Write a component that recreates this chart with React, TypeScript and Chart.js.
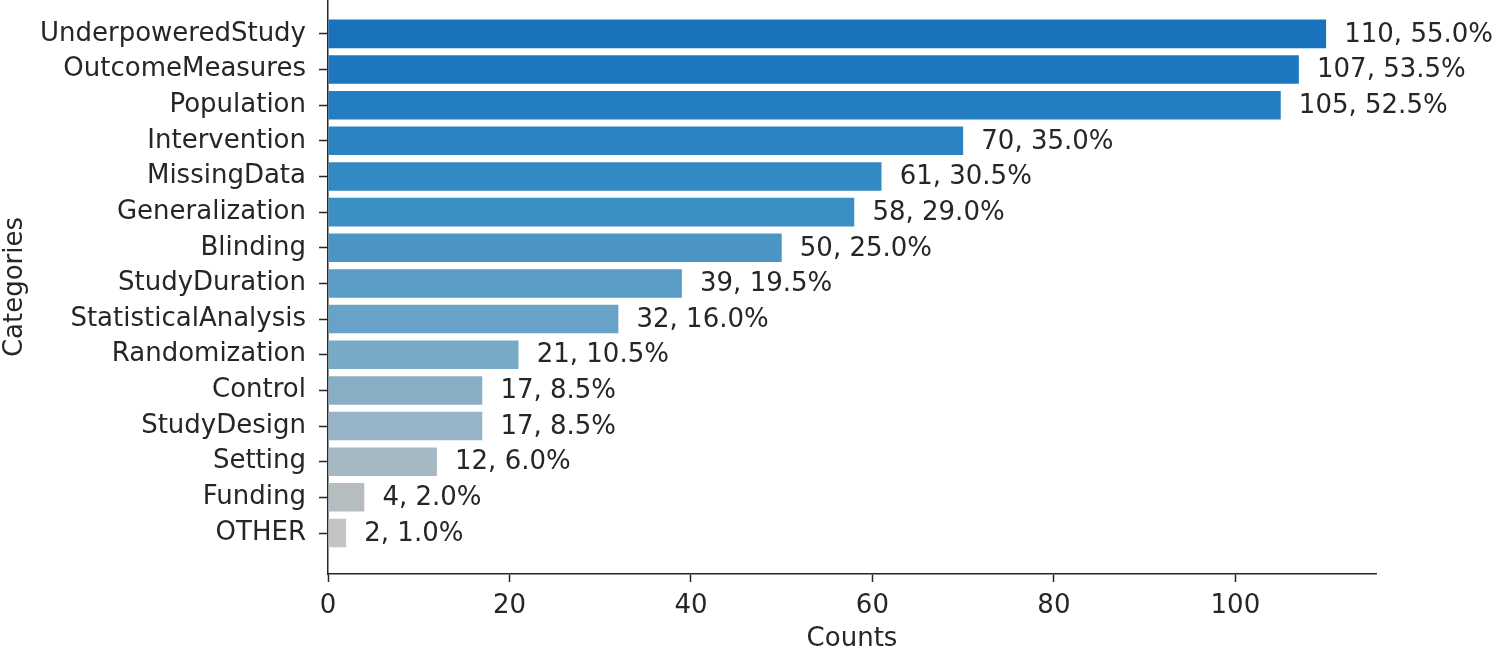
import React, { useEffect, useRef } from "react";
import { Chart, registerables } from "chart.js";

Chart.register(...registerables);

const categories = [
  "UnderpoweredStudy",
  "OutcomeMeasures",
  "Population",
  "Intervention",
  "MissingData",
  "Generalization",
  "Blinding",
  "StudyDuration",
  "StatisticalAnalysis",
  "Randomization",
  "Control",
  "StudyDesign",
  "Setting",
  "Funding",
  "OTHER",
];

const counts = [110, 107, 105, 70, 61, 58, 50, 39, 32, 21, 17, 17, 12, 4, 2];

const percents = [55.0, 53.5, 52.5, 35.0, 30.5, 29.0, 25.0, 19.5, 16.0, 10.5, 8.5, 8.5, 6.0, 2.0, 1.0];

const barColors = [
  "#1b72bc",
  "#1e78bf",
  "#237dc1",
  "#2b83c2",
  "#3389c2",
  "#3c8fc3",
  "#4a95c4",
  "#5a9cc5",
  "#68a3c7",
  "#78a9c6",
  "#88afc5",
  "#96b4c6",
  "#a6b8c3",
  "#b6bdc1",
  "#c4c4c4",
];

const xTicks = [0, 20, 40, 60, 80, 100];

const FONT = "'DejaVu Sans', 'Liberation Sans', sans-serif";
const TEXT = "#262626";
const FS = 26;

const valueLabels = {
  id: "valueLabels",
  afterDatasetsDraw(chart: any) {
    const ctx = chart.ctx;
    const meta = chart.getDatasetMeta(0);
    const xs = chart.scales.x;
    ctx.save();
    ctx.font = `${FS}px ${FONT}`;
    ctx.fillStyle = TEXT;
    ctx.textAlign = "left";
    ctx.textBaseline = "middle";
    meta.data.forEach((bar: any, i: number) => {
      const txt = `${counts[i]}, ${percents[i].toFixed(1)}%`;
      ctx.fillText(txt, xs.getPixelForValue(counts[i] + 2), bar.y + 1);
    });
    ctx.restore();
  },
};

export default function App() {
  const ref = useRef<HTMLCanvasElement | null>(null);

  useEffect(() => {
    document.body.style.margin = "0";
    if (!ref.current) return;
    const chart = new Chart(ref.current, {
      type: "bar",
      data: {
        datasets: [
          {
            data: counts.map((c, i) => ({ x: c, y: i })),
            backgroundColor: barColors,
            borderWidth: 0,
            barPercentage: 0.8,
            categoryPercentage: 1,
          },
        ],
      },
      plugins: [valueLabels],
      options: {
        animation: false,
        responsive: false,
        indexAxis: "y",
        layout: { padding: { left: 0, right: 124, top: 0, bottom: 0 } },
        plugins: {
          legend: { display: false },
          tooltip: { enabled: false },
        },
        scales: {
          x: {
            type: "linear",
            min: 0,
            max: 115.5,
            afterBuildTicks: (scale: any) => {
              scale.ticks = xTicks.map((v) => ({ value: v }));
            },
            afterFit: (scale: any) => {
              scale.height = 81;
              scale.paddingLeft = 0;
              scale.paddingRight = 0;
            },
            grid: {
              display: true,
              drawOnChartArea: false,
              drawTicks: true,
              tickLength: 8,
              tickWidth: 1.5,
              tickColor: TEXT,
              offset: false,
            },
            border: { display: true, color: TEXT, width: 1.5 },
            ticks: {
              font: { family: FONT, size: FS },
              color: TEXT,
              padding: 9,
              maxRotation: 0,
            },
            title: {
              display: true,
              text: "Counts",
              font: { family: FONT, size: FS },
              color: TEXT,
              padding: { top: 0, bottom: 0 },
            },
          },
          y: {
            type: "linear",
            reverse: true,
            offset: false,
            min: -0.95,
            max: 15.15,
            afterBuildTicks: (scale: any) => {
              scale.ticks = categories.map((_, i) => ({ value: i }));
            },
            afterFit: (scale: any) => {
              scale.width = 328;
              scale.paddingTop = 0;
              scale.paddingBottom = 0;
            },
            grid: {
              display: true,
              drawOnChartArea: false,
              drawTicks: true,
              tickLength: 9,
              tickWidth: 1.5,
              tickColor: TEXT,
              offset: false,
            },
            border: { display: true, color: TEXT, width: 1.5 },
            ticks: {
              font: { family: FONT, size: FS },
              color: TEXT,
              padding: 13,
              autoSkip: false,
              callback: (v: any) => categories[Number(v)] ?? "",
            },
            title: {
              display: true,
              text: "Categories",
              font: { family: FONT, size: FS },
              color: TEXT,
              padding: { top: 0, bottom: 2 },
            },
          },
        },
      },
    } as any);
    return () => chart.destroy();
  }, []);

  return (
    <div style={{ width: 1500, height: 655, background: "#fff" }}>
      <canvas ref={ref} width={1500} height={655} />
    </div>
  );
}
